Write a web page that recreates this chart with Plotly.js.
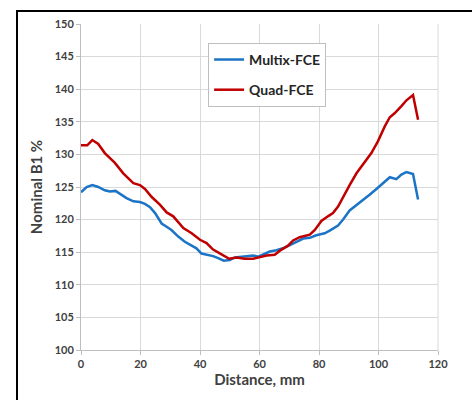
<!DOCTYPE html>
<html><head><meta charset="utf-8">
<script src="https://cdn.plot.ly/plotly-3.0.1.min.js"></script>
<style>
body{margin:0;padding:0;background:#fff;}
#frame{position:absolute;left:16px;top:10px;width:600px;height:600px;border:2px solid #000;box-sizing:border-box;}
#chart{position:absolute;left:0;top:0;width:472px;height:400px;}
</style></head>
<body>
<div id="frame"></div>
<div id="chart"></div>
<script>
const multixX = [0,1.9,3.8,5.8,8,9.7,11.6,13.7,15.3,17.6,19.8,21.5,23.2,24.9,27.1,28.8,30.4,32.7,34.9,37.2,38.8,40.5,42.8,44.4,46.1,48,50,51.7,54,56.2,57.9,59.6,61.8,63.5,65.7,67.9,70.2,72.4,74.7,76.9,79.1,81.9,83.6,86.4,88.1,90.3,92.6,94.8,97,99.3,102.1,103.8,106,107.7,109.4,111.6,113.3];
const multixY = [124.2,125.0,125.3,125.0,124.5,124.3,124.4,123.8,123.3,122.8,122.7,122.4,121.9,121.0,119.4,118.9,118.4,117.4,116.6,116.0,115.6,114.8,114.6,114.4,114.1,113.7,113.8,114.2,114.3,114.4,114.5,114.3,114.7,115.1,115.3,115.6,116.1,116.6,117.1,117.2,117.6,117.9,118.3,119.1,120.0,121.4,122.2,122.9,123.8,124.7,125.8,126.5,126.2,126.9,127.3,127.0,123.1];
const quadX = [0,2.1,3.8,5.8,8,11.4,14.2,17.6,19.8,21.5,23.7,26.5,28.8,31,34.4,37.2,40,42.2,44.4,47.6,49.8,52.3,55,57.9,60,62.4,65.1,67.4,69.6,71.3,73.5,76.9,78.6,80.8,83,84.7,86.4,88.1,90.3,92.6,95.4,97.6,99.8,102.1,103.8,105.4,107.7,109.4,111.6,113.3];
const quadY = [131.4,131.4,132.2,131.6,130.2,128.7,127.1,125.6,125.3,124.7,123.5,122.3,121.1,120.5,118.7,117.9,116.9,116.4,115.4,114.6,114.0,114.2,114.0,114.0,114.2,114.5,114.6,115.4,116.0,116.8,117.3,117.7,118.4,119.8,120.5,121.0,122.0,123.5,125.3,127.1,128.9,130.2,132.0,134.3,135.7,136.3,137.4,138.3,139.1,135.3];
const seriesNames = ["Multix-FCE","Quad-FCE"];
const xTicks = [0,20,40,60,80,100,120];
const yTicks = [100,105,110,115,120,125,130,135,140,145,150];

const fontFam = "Lato, 'Open Sans', sans-serif";
const traces = [
  {x: multixX, y: multixY, name: seriesNames[0], mode:'lines', legendgroup:'a',
   line:{color:'#1b74c5', width:2.5}},
  {x: quadX, y: quadY, name: seriesNames[1], mode:'lines', legendgroup:'b',
   line:{color:'#c00000', width:2.5}}
];
const axisCommon = {
  showgrid:true, gridcolor:'#d9d9d9', gridwidth:1,
  showline:true, linecolor:'#bfbfbf', linewidth:1,
  ticks:'outside', ticklen:4, tickcolor:'#bfbfbf',
  tickfont:{family:fontFam, size:11, color:'#404040', weight:'bold'},
  zeroline:false
};
const layout = {
  width:472, height:400,
  margin:{l:81, r:34, t:24, b:50},
  paper_bgcolor:'rgba(0,0,0,0)', plot_bgcolor:'rgba(0,0,0,0)',
  showlegend:true,
  legend:{x:0.356, y:0.942, xanchor:'left', yanchor:'top',
    bordercolor:'#bfbfbf', borderwidth:1, bgcolor:'#fff',
    font:{family:fontFam, size:14, color:'#262626', weight:'bold'},
    traceorder:'grouped', tracegroupgap:9, itemwidth:30},
  xaxis: Object.assign({}, axisCommon, {
    range:[0,120], tickvals:xTicks, mirror:false,
    title:{text:'Distance, mm', font:{family:fontFam, size:15, color:'#404040', weight:'bold'}, standoff:5}
  }),
  yaxis: Object.assign({}, axisCommon, {
    range:[100,150], tickvals:yTicks,
    title:{text:'Nominal B1 %', font:{family:fontFam, size:15, color:'#404040', weight:'bold'}, standoff:8}
  }),
  shapes:[{type:'line', xref:'paper', yref:'paper', x0:1, x1:1, y0:0, y1:1, line:{color:'#d9d9d9', width:1}}]
};
Plotly.newPlot('chart', traces, layout, {displayModeBar:false, staticPlot:true});
</script>
</body></html>
